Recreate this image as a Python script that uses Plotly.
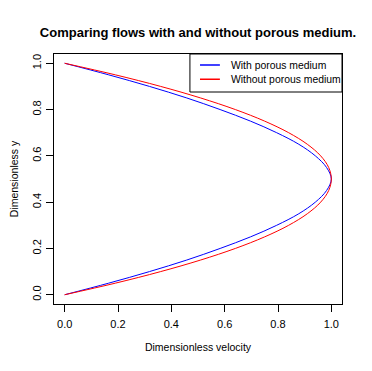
import plotly.graph_objects as go

# Dimensionless y positions
y_pos = [0.00, 0.05, 0.10, 0.15, 0.20, 0.25, 0.30, 0.35, 0.40, 0.45, 0.50,
         0.55, 0.60, 0.65, 0.70, 0.75, 0.80, 0.85, 0.90, 0.95, 1.00]

# Velocity with porous medium (blue)
vel_porous = [0.000, 0.165, 0.318, 0.458, 0.583, 0.697, 0.795, 0.878, 0.940, 0.982, 1.000,
              0.982, 0.940, 0.878, 0.795, 0.697, 0.583, 0.458, 0.318, 0.165, 0.000]

# Velocity without porous medium (red)
vel_plain = [0.000, 0.190, 0.360, 0.510, 0.640, 0.750, 0.840, 0.910, 0.960, 0.990, 1.000,
             0.990, 0.960, 0.910, 0.840, 0.750, 0.640, 0.510, 0.360, 0.190, 0.000]

series_names = ["With porous medium", "Without porous medium"]
series_colors = ["#0000FF", "#FF0000"]

tick_vals = [0.0, 0.2, 0.4, 0.6, 0.8, 1.0]
tick_text = ["0.0", "0.2", "0.4", "0.6", "0.8", "1.0"]

FONT = "Liberation Sans, Arial, sans-serif"

fig = go.Figure()
for xs, name, col in zip([vel_porous, vel_plain], series_names, series_colors):
    fig.add_trace(go.Scatter(x=xs, y=y_pos, mode="lines", name=name, showlegend=False,
                             line=dict(color=col, width=1, shape="spline")))

# R-style legend box (top right, inside plot)
fig.add_shape(type="rect", xref="paper", yref="paper", x0=0.472, x1=1.0, y0=0.848, y1=1.0,
              line=dict(color="#000000", width=1), fillcolor="white", layer="above")
row_y = [0.956, 0.899]
for ry, name, col in zip(row_y, series_names, series_colors):
    fig.add_shape(type="line", xref="paper", yref="paper", x0=0.507, x1=0.576, y0=ry, y1=ry,
                  line=dict(color=col, width=1.5), layer="above")
    fig.add_annotation(xref="paper", yref="paper", x=0.606, y=ry, text=name, showarrow=False,
                       xanchor="left", yanchor="middle",
                       font=dict(family=FONT, size=10.4, color="#000000"))

axis_common = dict(showgrid=False, zeroline=False, showline=True, mirror=True,
                   linecolor="#000000", linewidth=1, ticks="outside", ticklen=7,
                   tickcolor="#000000", tickvals=tick_vals, ticktext=tick_text,
                   automargin=False,
                   tickfont=dict(family=FONT, size=11, color="#000000"))

fig.update_layout(
    width=364, height=363,
    margin=dict(l=46, r=30, t=46, b=67, autoexpand=False),
    paper_bgcolor="white", plot_bgcolor="white",
    font=dict(family=FONT, color="#000000"),
    title=dict(text="<b>Comparing flows with and without porous medium.</b>",
               font=dict(size=13, color="#000000"), automargin=False,
               x=0.5, xref="paper", xanchor="center",
               y=1 - 24 / 363, yref="container", yanchor="middle"),
    xaxis=dict(range=[-0.04, 1.04], ticklabelstandoff=3,
               title=dict(text="Dimensionless velocity", font=dict(size=10.5), standoff=14),
               **axis_common),
    yaxis=dict(range=[-0.04, 1.04], tickangle=-90, ticklabelstandoff=1,
               title=dict(text="Dimensionless y", font=dict(size=10.5), standoff=12),
               **axis_common),
    showlegend=False,
)

fig.write_html("out.html")
